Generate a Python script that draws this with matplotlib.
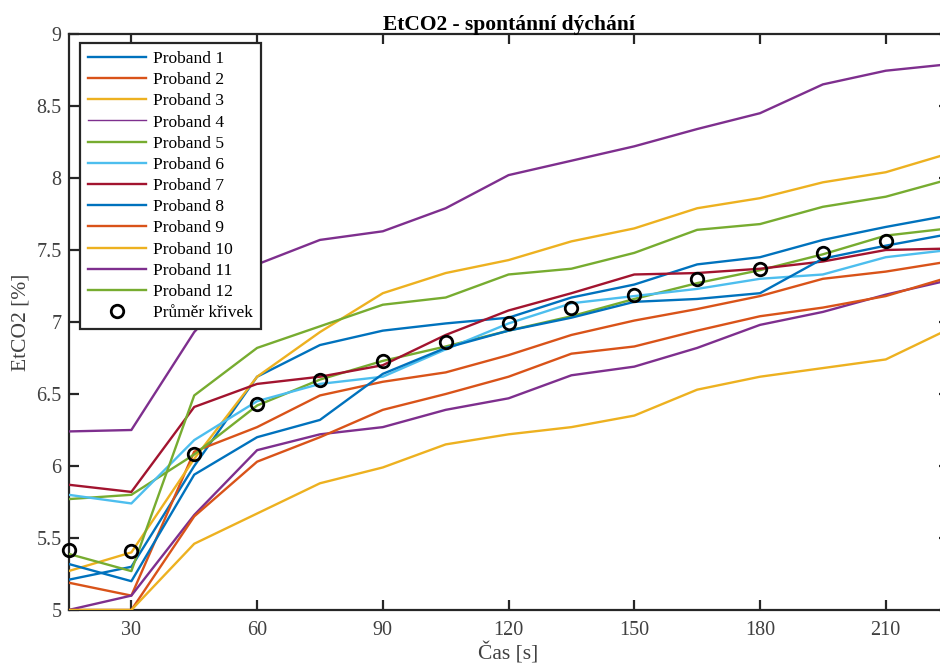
import matplotlib
matplotlib.use('Agg')
import numpy as np
import matplotlib.pyplot as plt
from matplotlib.ticker import FuncFormatter

# ---- data ----
time_s = [15, 30, 45, 60, 75, 90, 105, 120, 135, 150, 165, 180, 195, 210, 225]

proband_1 = [5.21, 5.30, 6.00, 6.62, 6.84, 6.94, 6.99, 7.03, 7.17, 7.26, 7.40, 7.45, 7.57, 7.66, 7.74]
proband_2 = [5.19, 5.10, 6.10, 6.27, 6.49, 6.585, 6.65, 6.77, 6.91, 7.01, 7.09, 7.18, 7.30, 7.35, 7.42]
proband_3 = [5.27, 5.40, 6.05, 6.62, 6.93, 7.20, 7.34, 7.43, 7.56, 7.65, 7.79, 7.86, 7.97, 8.04, 8.17]
proband_4 = [5.00, 5.10, 5.66, 6.11, 6.22, 6.27, 6.39, 6.47, 6.63, 6.69, 6.82, 6.98, 7.07, 7.19, 7.29]
proband_5 = [5.77, 5.80, 6.08, 6.42, 6.60, 6.73, 6.83, 6.94, 7.04, 7.16, 7.27, 7.36, 7.47, 7.60, 7.65]
proband_6 = [5.80, 5.74, 6.18, 6.45, 6.57, 6.62, 6.81, 6.99, 7.13, 7.18, 7.23, 7.30, 7.33, 7.45, 7.50]
proband_7 = [5.87, 5.82, 6.41, 6.57, 6.62, 6.70, 6.91, 7.08, 7.20, 7.33, 7.34, 7.37, 7.42, 7.50, 7.51]
proband_8 = [5.32, 5.20, 5.94, 6.20, 6.32, 6.64, 6.82, 6.94, 7.03, 7.14, 7.16, 7.20, 7.44, 7.53, 7.61]
proband_9 = [5.00, 5.00, 5.65, 6.03, 6.20, 6.39, 6.50, 6.62, 6.78, 6.83, 6.94, 7.04, 7.10, 7.18, 7.31]
proband_10 = [5.00, 5.00, 5.46, 5.67, 5.88, 5.99, 6.15, 6.22, 6.27, 6.35, 6.53, 6.62, 6.68, 6.74, 6.95]
proband_11 = [6.24, 6.25, 6.93, 7.40, 7.57, 7.63, 7.79, 8.02, 8.12, 8.22, 8.34, 8.45, 8.65, 8.745, 8.79]
proband_12 = [5.39, 5.27, 6.49, 6.82, 6.97, 7.12, 7.17, 7.33, 7.37, 7.48, 7.64, 7.68, 7.80, 7.87, 7.99]

mean_curve = [5.42, 5.41, 6.08, 6.43, 6.60, 6.73, 6.86, 6.99, 7.10, 7.19, 7.30, 7.37, 7.48, 7.56, 7.63]

series_labels = ['Proband %d' % i for i in range(1, 13)]
mean_label = 'Průměr křivek'
title_text = 'EtCO2 - spontánní dýchání'
x_label = 'Čas [s]'
y_label = 'EtCO2 [%]'
x_ticks = [30, 60, 90, 120, 150, 180, 210]
y_ticks = [5, 5.5, 6, 6.5, 7, 7.5, 8, 8.5, 9]

all_series = [proband_1, proband_2, proband_3, proband_4, proband_5, proband_6,
              proband_7, proband_8, proband_9, proband_10, proband_11, proband_12]

matlab_colors = ['#0072BD', '#D95319', '#EDB120', '#7E2F8E', '#77AC30', '#4DBEEE', '#A2142F']

# ---- figure ----
plt.rcParams['font.family'] = ['Liberation Serif', 'DejaVu Serif']
fig = plt.figure(figsize=(9.4, 6.68), dpi=100)
W, H = 940.0, 668.0
ax = fig.add_axes([68.5 / W, 58 / H, (948.6 - 68.5) / W, 576 / H])

for i, (vals, lab) in enumerate(zip(all_series, series_labels)):
    ax.plot(time_s, vals, color=matlab_colors[i % 7], lw=1.7, label=lab, zorder=3)

ax.plot(time_s, mean_curve, linestyle='none', marker='o', markersize=9,
        markerfacecolor='none', markeredgecolor='black', markeredgewidth=2.0,
        label=mean_label, zorder=4, clip_on=False)

ax.set_xlim(15, 225)
ax.set_ylim(5, 9)
ax.set_xticks(x_ticks)
ax.set_yticks(y_ticks)
ax.yaxis.set_major_formatter(FuncFormatter(lambda v, p: '%g' % v))

axcol = '#262626'
for sp in ax.spines.values():
    sp.set_linewidth(1.6)
    sp.set_color(axcol)
ax.tick_params(direction='in', top=True, right=True, length=7, width=1.6,
               colors=axcol, labelcolor='#404040', labelsize=14.5)
ax.tick_params(axis='x', pad=8)
ax.tick_params(axis='y', pad=5)

ax.set_title(title_text, fontsize=15.5, fontweight='bold', color='black', pad=3)
ax.set_xlabel(x_label, fontsize=15.5, color='#404040', labelpad=2)
ax.set_ylabel(y_label, fontsize=15.5, color='#404040', labelpad=4)

leg = ax.legend(loc='upper left', bbox_to_anchor=(80 / W, 1 - 43 / H),
                bbox_transform=fig.transFigure, fontsize=12.5, frameon=True,
                fancybox=False, edgecolor=axcol, framealpha=1.0,
                handlelength=3.35, handletextpad=0.4, labelspacing=0.29,
                borderpad=0.45, borderaxespad=0.0)
leg.get_frame().set_linewidth(1.6)
leg.get_lines()[3].set_linewidth(1.0)
for t in leg.get_texts():
    t.set_color('black')

fig.savefig('out.png', dpi=100)
